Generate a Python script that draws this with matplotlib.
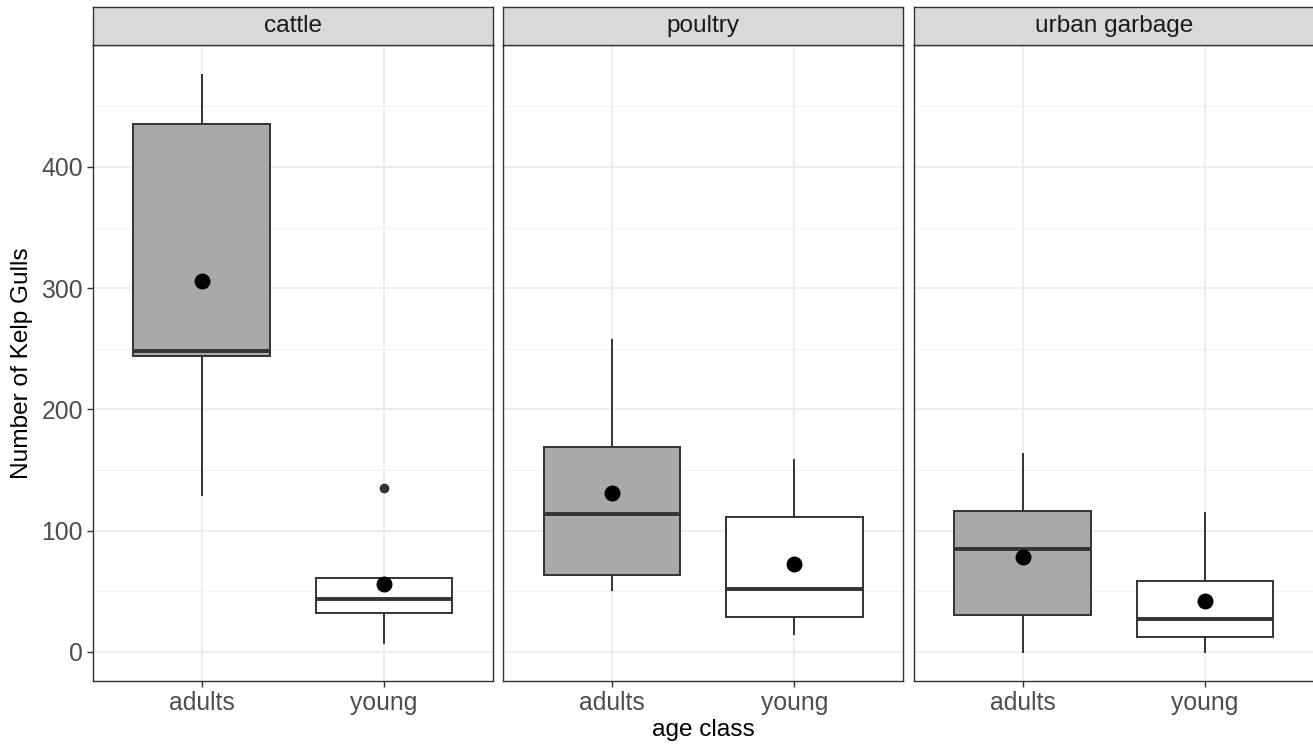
import numpy as np
import matplotlib.pyplot as plt

plt.rcParams['font.family'] = ['Liberation Sans', 'DejaVu Sans']

panels = ['cattle', 'poultry', 'urban garbage']
ages = ['adults', 'young']

# box statistics per panel, [adults, young]
whislo = [[129.5, 7.7], [51.1, 14.8], [0, 0]]
q1 = [[244, 32.4], [63.5, 28.6], [30.5, 12.6]]
med = [[248.5, 43.7], [113.8, 51.7], [85, 27]]
q3 = [[435.5, 61], [169.3, 111.6], [116, 58.5]]
whishi = [[476, 61], [257.3, 158.4], [163, 114.6]]
means = [[306, 56], [131.4, 72.6], [78.6, 42.3]]
outliers = [[[], [135.5]], [[], []], [[], []]]

box_fill = ['#a9a9a9', 'white']
dark = '#333333'

W, H = 1313, 745
fig = plt.figure(figsize=(W / 100, H / 100), dpi=100)

lefts = [92.5, 503, 913.5]
pw = 400.5
top, bottom, strip_top = 45, 681, 7

for i, name in enumerate(panels):
    ax = fig.add_axes([lefts[i] / W, (H - bottom) / H, pw / W, (bottom - top) / H])
    stats = []
    for j in range(2):
        stats.append(dict(whislo=whislo[i][j], q1=q1[i][j], med=med[i][j],
                          q3=q3[i][j], whishi=whishi[i][j], fliers=outliers[i][j]))
    bp = ax.bxp(stats, positions=[1, 2], widths=0.75, patch_artist=True,
                showcaps=False, showfliers=True,
                boxprops=dict(edgecolor=dark, linewidth=1.4),
                whiskerprops=dict(color=dark, linewidth=1.4),
                medianprops=dict(color=dark, linewidth=2.8),
                flierprops=dict(marker='o', markerfacecolor=dark, markeredgecolor=dark,
                                markersize=6))
    for patch, c in zip(bp['boxes'], box_fill):
        patch.set_facecolor(c)
    ax.scatter([1, 2], means[i], s=110, color='black', zorder=5)

    ax.set_xlim(0.4, 2.6)
    ax.set_ylim(-24, 500.6)
    ax.set_xticks([1, 2])
    ax.set_xticklabels(ages)
    ax.set_yticks([0, 100, 200, 300, 400])
    ax.set_yticks([50, 150, 250, 350, 450], minor=True)
    ax.grid(True, which='major', color='#ebebeb', linewidth=1.2, zorder=0)
    ax.grid(True, which='minor', axis='y', color='#f2f2f2', linewidth=0.7, zorder=0)
    ax.set_axisbelow(True)
    ax.tick_params(axis='both', which='major', length=4, width=1, color=dark,
                   labelsize=17.8, labelcolor='#4d4d4d', pad=3)
    ax.tick_params(which='minor', length=0)
    for s in ax.spines.values():
        s.set_color(dark)
        s.set_linewidth(1)
    if i == 0:
        ax.set_ylabel('Number of Kelp Gulls', fontsize=17.6, labelpad=6)
    else:
        ax.set_yticklabels([])
        ax.tick_params(axis='y', length=0)
    if i == 1:
        ax.set_xlabel('age class', fontsize=17.6, labelpad=3)

    sax = fig.add_axes([lefts[i] / W, (H - top) / H, pw / W, (top - strip_top) / H])
    sax.set_facecolor('#d9d9d9')
    sax.set_xticks([])
    sax.set_yticks([])
    for s in sax.spines.values():
        s.set_color(dark)
        s.set_linewidth(1)
    sax.text(0.5, 0.5, name, ha='center', va='center', fontsize=17.6, color='#1a1a1a',
             transform=sax.transAxes)

fig.savefig('out.png', dpi=100)
